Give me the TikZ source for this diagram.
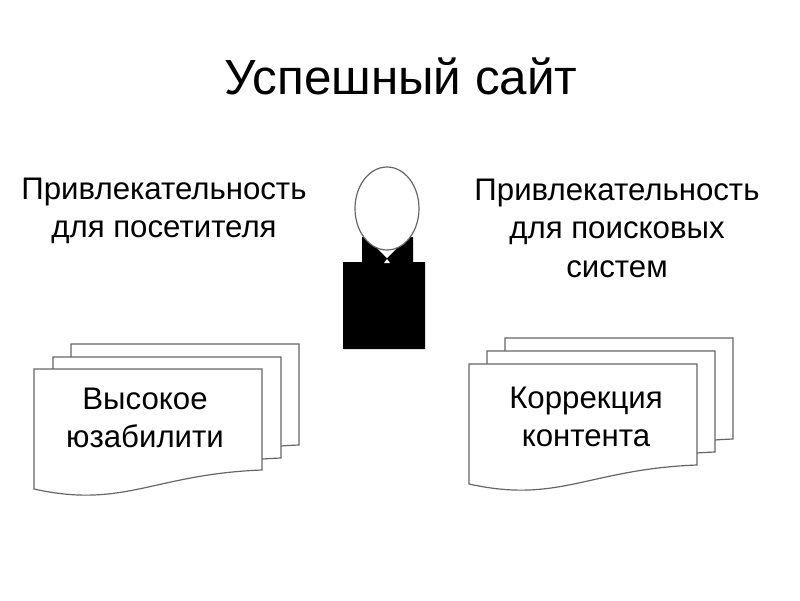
\documentclass[tikz,border=0pt]{standalone}
\usepackage{fontspec}
\setmainfont{Liberation Sans}
\usetikzlibrary{positioning,shapes.geometric}
\newcommand{\docsheet}[2]{\draw[sheet,shift={(#1,#2)}] (0,0) -- (228,0) -- (228,101) .. controls (120,105) and (90,140) .. (0,120) -- cycle;}
\begin{document}
\begin{tikzpicture}[x=1pt,y=-1pt,align=center]
    \tikzstyle{sheet} = [draw=black!60,fill=white,line width=1.2pt]
    \tikzstyle{heading} = [font=\fontsize{49.4}{52}\selectfont]
    \tikzstyle{caption} = [font=\fontsize{31.2}{38.5}\selectfont]
    \useasboundingbox (0,0) rectangle (800,600);
      \node[heading] (title) at (401,76) {Успешный сайт};
      \node[caption] (visitor) at (164,211) {Привлекательность\\для посетителя};
      \node[caption] (search) at (617,228) {Привлекательность\\для поисковых\\систем};
      % left and right stacks, back sheet first
      \foreach \x/\y in {71/344,53/357,34/369} \docsheet{\x}{\y};
      \foreach \x/\y in {505/338,487/351,469/364} \docsheet{\x}{\y};
      \node[caption] (usability) at (145,418) {Высокое\\юзабилити};
      \node[caption] (content) at (586,417) {Коррекция\\контента};
      % person
      \fill (343,262) -- (362,262) -- (362,237) -- (413,237) -- (413,262) -- (425,262) -- (425,349) -- (343,349) -- cycle;
      \fill[white] (375,246) -- (387,258) -- (399,246) -- cycle;
      \fill[white] (387,259) -- (384,263) -- (390,263) -- cycle;
      \node[sheet,ellipse,minimum width=64pt,minimum height=83pt,inner sep=0pt] (head) at (387,208.5) {};
\end{tikzpicture}
\end{document}
